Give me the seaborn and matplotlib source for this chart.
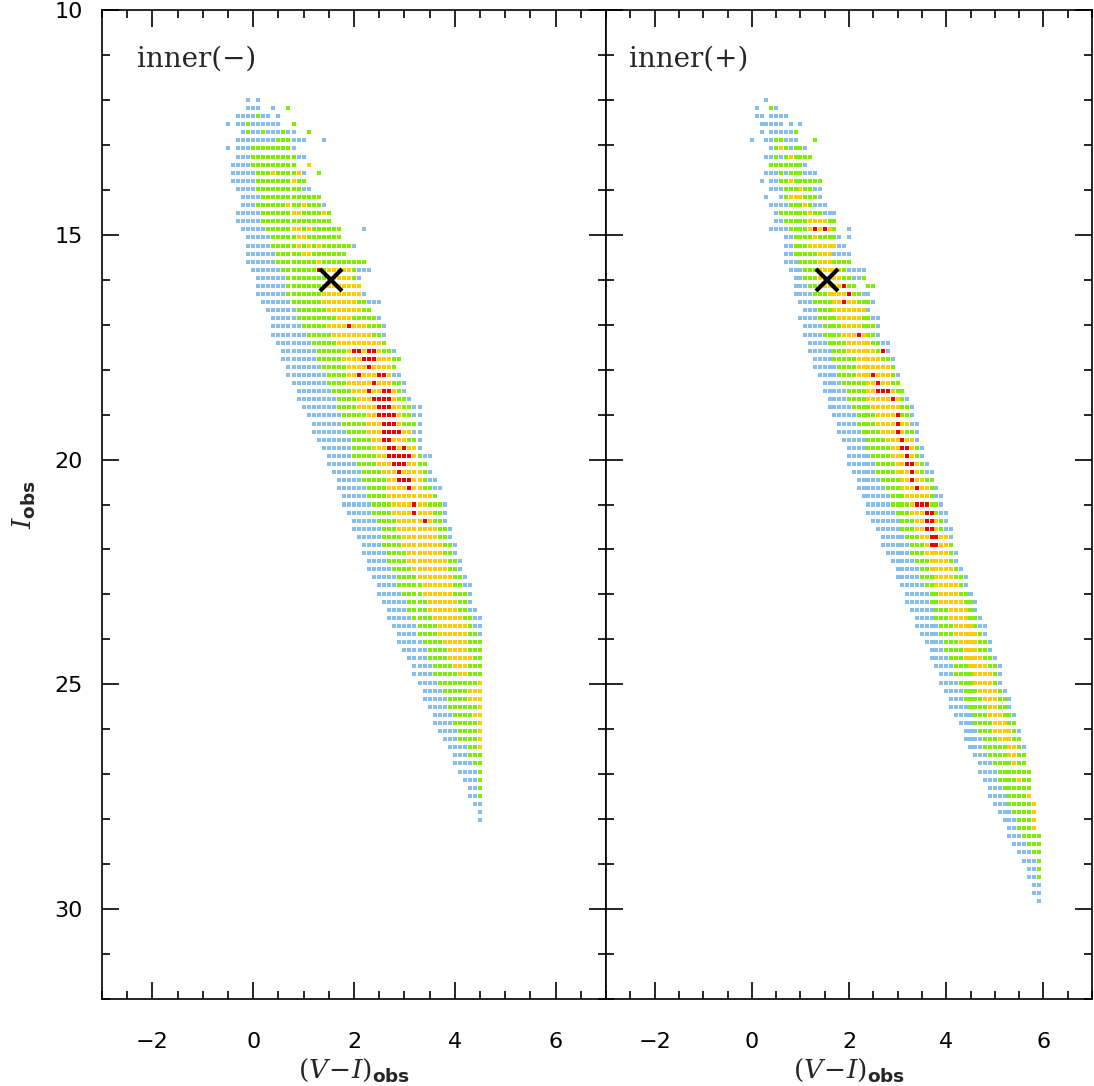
import numpy as np
import pandas as pd
import matplotlib
matplotlib.use('Agg')
import matplotlib.pyplot as plt
from matplotlib.ticker import MultipleLocator
import seaborn as sns

nan = np.nan

# model grid: rows in I_obs, columns in (V-I)_obs
row_I0 = 12.0
row_step = 0.18
col_step = 0.1

# ---------------- inner(-) : per row extents ----------------
left_xmin = [nan, nan, -0.3, -0.3, -0.2, -0.3, -0.3, -0.3, -0.4, -0.4,
             -0.4, -0.3, -0.2, -0.2, -0.3, -0.3, -0.2, -0.1, -0.1, -0.1,
             -0.1, 0.0, 0.1, 0.1, 0.1, 0.2, 0.3, 0.4, 0.4, 0.4,
             0.5, 0.6, 0.6, 0.7, 0.7, 0.8, 0.9, 0.9, 1.0, 1.1,
             1.2, 1.2, 1.3, 1.4, 1.5, 1.5, 1.6, 1.7, 1.7, 1.8,
             1.8, 1.9, 2.0, 2.0, 2.1, 2.2, 2.2, 2.3, 2.3, 2.4,
             2.5, 2.5, 2.6, 2.7, 2.7, 2.8, 2.9, 2.9, 3.0, 3.1,
             3.2, 3.2, 3.3, 3.4, 3.4, 3.5, 3.6, 3.6, 3.7, 3.8,
             3.9, 4.0, 4.0, 4.1, 4.2, 4.3, 4.3, 4.4, 4.5, 4.5]
left_xmax = [nan, nan, 0.3, 0.5, 0.8, 1.0, 0.8, 1.0, 0.8, 1.0,
             1.0, 1.1, 1.3, 1.4, 1.5, 1.5, 1.7, 1.7, 2.0, 1.8,
             2.2, 2.3, 2.1, 2.1, 2.2, 2.5, 2.3, 2.5, 2.6, 2.6,
             2.6, 2.8, 2.9, 2.8, 2.9, 3.0, 3.0, 3.1, 3.3, 3.3,
             3.3, 3.3, 3.3, 3.3, 3.5, 3.4, 3.5, 3.6, 3.7, 3.6,
             3.8, 3.8, 3.8, 3.9, 3.9, 4.0, 4.0, 4.1, 4.1, 4.2,
             4.3, 4.3, 4.3, 4.4, 4.5, 4.5, 4.5, 4.5, 4.5, 4.5,
             4.5, 4.5, 4.5, 4.5, 4.5, 4.5, 4.5, 4.5, 4.5, 4.5,
             4.5, 4.5, 4.5, 4.5, 4.5, 4.5, 4.5, 4.5, 4.5, 4.5]
left_green_lo = [nan, nan, 0.1, -0.1, nan, 0.5, 0.0, 0.0, 0.0, 0.1,
                 0.1, 0.1, 0.2, 0.1, 0.2, 0.2, 0.3, 0.4, 0.4, 0.5,
                 0.5, 0.6, 0.7, 0.7, 0.7, 0.8, 0.9, 0.9, 1.0, 1.1,
                 1.2, 1.3, 1.3, 1.4, 1.5, 1.5, 1.6, 1.7, 1.7, 1.8,
                 1.8, 1.9, 2.0, 2.0, 2.0, 2.1, 2.2, 2.2, 2.3, 2.3,
                 2.4, 2.4, 2.5, 2.6, 2.6, 2.6, 2.7, 2.7, 2.8, 2.9,
                 2.9, 3.0, 3.1, 3.1, 3.2, 3.3, 3.3, 3.4, 3.5, 3.5,
                 3.6, 3.6, 3.7, 3.8, 3.9, 3.9, 4.0, 4.0, 4.1, 4.1,
                 4.3, 4.3, 4.4, 4.5, 4.5, 4.5, 4.5, nan, nan, nan]
left_green_hi = [nan, nan, 0.1, -0.1, nan, 0.7, 0.7, 0.8, 0.8, 0.9,
                 1.0, 0.9, 1.3, 1.3, 1.5, 1.5, 1.7, 1.7, 1.9, 1.8,
                 2.2, 2.0, 2.0, 2.1, 2.1, 2.2, 2.3, 2.4, 2.5, 2.5,
                 2.6, 2.7, 2.9, 2.8, 2.7, 2.9, 2.9, 3.0, 3.1, 3.1,
                 3.2, 3.1, 3.2, 3.1, 3.3, 3.4, 3.4, 3.4, 3.5, 3.6,
                 3.7, 3.7, 3.7, 3.8, 3.8, 3.9, 3.9, 4.0, 4.0, 4.1,
                 4.1, 4.2, 4.2, 4.2, 4.3, 4.3, 4.4, 4.5, 4.5, 4.5,
                 4.5, 4.5, 4.5, 4.5, 4.5, 4.5, 4.5, 4.5, 4.5, 4.5,
                 4.5, 4.5, 4.5, 4.5, 4.5, 4.5, 4.5, nan, nan, nan]
left_yellow_lo = [nan, nan, nan, nan, nan, nan, nan, nan, nan, nan,
                  nan, nan, nan, nan, 0.8, nan, 0.8, 0.9, 0.9, 1.0,
                  nan, 1.5, 1.5, 1.5, 1.4, 1.4, 1.5, 1.7, 1.5, 1.6,
                  1.7, 1.9, 1.8, 1.9, 1.9, 1.9, 2.0, 2.1, 2.1, 2.3,
                  2.3, 2.3, 2.4, 2.4, 2.5, 2.5, 2.6, 2.7, 2.7, 2.7,
                  2.8, 2.8, 2.9, 2.9, 3.0, 3.0, 3.1, 3.1, 3.2, 3.3,
                  3.4, 3.4, 3.5, 3.5, 3.6, 3.7, 3.7, 3.8, 3.9, 3.9,
                  4.0, 4.1, 4.5, 4.3, 4.3, 4.5, 4.4, 4.5, 4.5, 4.5,
                  4.5, nan, nan, nan, nan, nan, nan, nan, nan, nan]
left_yellow_hi = [nan, nan, nan, nan, nan, nan, nan, nan, nan, nan,
                  nan, nan, nan, nan, 0.9, nan, 0.9, 1.0, 0.9, 1.1,
                  nan, 1.9, 1.9, 2.1, 2.1, 2.0, 2.1, 1.9, 2.2, 2.3,
                  2.5, 2.5, 2.7, 2.7, 2.7, 2.7, 2.8, 2.8, 2.9, 2.9,
                  2.9, 3.1, 3.0, 3.2, 3.2, 3.2, 3.3, 3.3, 3.3, 3.5,
                  3.4, 3.5, 3.5, 3.6, 3.6, 3.7, 3.7, 3.8, 3.8, 3.9,
                  3.9, 3.9, 4.0, 4.0, 4.1, 4.2, 4.2, 4.2, 4.2, 4.3,
                  4.2, 4.2, 4.5, 4.5, 4.5, 4.5, 4.5, 4.5, 4.5, 4.5,
                  4.5, nan, nan, nan, nan, nan, nan, nan, nan, nan]
# highest-probability cells (row index, colour)
left_red_row = [21, 28, 31, 31, 31, 31, 32, 32, 32, 33, 34, 34, 34, 35, 36, 36, 36,
                37, 37, 37, 37, 38, 38, 38, 39, 39, 39, 39, 40, 40, 40,
                41, 41, 41, 41, 42, 42, 43, 43, 43, 44, 44, 44, 44, 44,
                45, 45, 45, 46, 47, 47, 47, 48, 50, 51, 52]
left_red_x = [1.3, 1.9, 2.0, 2.1, 2.3, 2.4, 2.2, 2.3, 2.4, 2.3, 2.1, 2.5, 2.6, 2.4, 2.3, 2.6, 2.7,
              2.4, 2.5, 2.6, 2.7, 2.5, 2.6, 2.7, 2.5, 2.6, 2.7, 2.8, 2.6, 2.7, 2.8,
              2.6, 2.7, 2.8, 2.9, 2.6, 2.7, 2.7, 2.8, 3.0, 2.7, 2.8, 2.9, 3.0, 3.1,
              2.8, 2.9, 3.0, 2.9, 2.9, 3.0, 3.1, 3.1, 3.2, 3.2, 3.4]
# isolated cells in the sparse top of the band
left_extra_row = [0, 0, 1, 1, 1, 1, 1, 2, 3, 3, 4, 4, 4, 4, 5, 6, 8, 9, 9, 9,
                  10, 13, 13, 14, 16, 16, 18, 18, 20]
left_extra_x = [-0.1, 0.1, -0.1, 0.0, 0.1, 0.4, 0.7, 0.5, -0.5, 0.8, -0.1, 0.2, 0.6, 1.1,
                1.4, -0.5, 1.1, 0.4, 0.9, 1.3, 0.8, 0.7, 1.0, 1.4, 1.1, 2.2, 1.1, 1.3, 1.3]
left_extra_lev = ['b', 'b', 'b', 'b', 'b', 'b', 'g', 'b', 'b', 'g', 'g', 'g', 'g', 'g',
                  'b', 'b', 'y', 'y', 'y', 'g', 'y', 'y', 'y', 'y', 'y', 'b', 'y', 'y', 'y']

# ---------------- inner(+) ----------------
right_xmin = [nan, nan, 0.4, 0.2, 0.4, 0.3, 0.4, 0.3, 0.4, 0.3,
              0.4, 0.4, 0.6, 0.4, 0.5, 0.5, 0.4, 0.7, 0.7, 0.7,
              0.7, 0.8, 0.9, 0.9, 0.9, 1.0, 1.1, 1.0, 1.1, 1.1,
              1.2, 1.2, 1.3, 1.3, 1.4, 1.5, 1.5, 1.6, 1.6, 1.7,
              1.8, 1.8, 1.9, 2.0, 2.0, 2.0, 2.1, 2.2, 2.2, 2.3,
              2.4, 2.4, 2.5, 2.6, 2.7, 2.7, 2.8, 2.9, 3.0, 3.0,
              3.1, 3.2, 3.2, 3.3, 3.4, 3.4, 3.5, 3.6, 3.7, 3.7,
              3.8, 3.9, 3.9, 4.0, 4.1, 4.1, 4.2, 4.3, 4.4, 4.4,
              4.5, 4.6, 4.7, 4.7, 4.8, 4.9, 4.9, 5.0, 5.1, 5.2,
              5.3, 5.3, 5.4, 5.5, 5.6, 5.7, 5.7, 5.8, 5.8, 5.9]
right_xmax = [nan, nan, 0.7, 0.6, 0.8, 0.9, 1.1, 1.2, 1.1, 1.3,
              1.4, 1.4, 1.4, 1.5, 1.7, 1.7, 1.7, 1.8, 1.9, 2.0,
              2.0, 2.2, 2.3, 2.1, 2.4, 2.5, 2.4, 2.6, 2.6, 2.6,
              2.8, 2.8, 2.9, 2.9, 3.0, 3.0, 3.1, 3.2, 3.3, 3.3,
              3.4, 3.4, 3.4, 3.5, 3.5, 3.6, 3.7, 3.7, 3.8, 3.9,
              3.9, 4.0, 4.0, 4.1, 4.1, 4.1, 4.2, 4.2, 4.3, 4.4,
              4.4, 4.5, 4.6, 4.6, 4.7, 4.8, 4.8, 4.9, 4.9, 5.0,
              5.1, 5.1, 5.1, 5.2, 5.3, 5.3, 5.4, 5.4, 5.5, 5.5,
              5.6, 5.6, 5.6, 5.7, 5.7, 5.7, 5.7, 5.8, 5.8, 5.8,
              5.8, 5.9, 5.9, 5.9, 5.9, 5.9, 5.9, 5.9, 5.9, 5.9]
right_green_lo = [nan, nan, nan, nan, nan, 0.5, 0.5, 0.5, 0.4, 0.6,
                  0.6, 0.7, 0.7, 0.8, 0.6, 0.7, 0.8, 0.9, 0.9, 0.9,
                  1.0, 1.1, 1.1, 1.2, 1.3, 1.3, 1.4, 1.4, 1.5, 1.5,
                  1.6, 1.7, 1.7, 1.8, 1.8, 1.9, 2.0, 2.0, 2.1, 2.2,
                  2.2, 2.3, 2.4, 2.4, 2.5, 2.6, 2.6, 2.7, 2.8, 2.9,
                  2.9, 3.0, 3.1, 3.1, 3.2, 3.3, 3.3, 3.4, 3.5, 3.5,
                  3.6, 3.7, 3.7, 3.8, 3.8, 3.9, 3.9, 4.0, 4.0, 4.1,
                  4.2, 4.2, 4.3, 4.4, 4.4, 4.5, 4.6, 4.6, 4.7, 4.8,
                  4.8, 4.9, 5.0, 5.1, 5.1, 5.2, 5.3, 5.3, 5.4, 5.5,
                  5.5, 5.6, 5.7, 5.8, 5.9, 5.9, 5.9, nan, nan, nan]
right_green_hi = [nan, nan, nan, nan, nan, 0.6, 1.0, 1.2, 1.0, 1.0,
                  1.4, 1.2, 1.3, 1.2, 1.4, 1.7, 1.7, 1.7, 1.7, 1.6,
                  2.0, 1.9, 2.3, 2.1, 2.2, 2.4, 2.3, 2.4, 2.5, 2.5,
                  2.6, 2.6, 2.8, 2.9, 2.9, 3.0, 3.1, 3.1, 3.2, 3.2,
                  3.2, 3.3, 3.3, 3.4, 3.4, 3.5, 3.5, 3.7, 3.7, 3.7,
                  3.8, 3.8, 3.9, 3.9, 4.0, 4.1, 4.1, 4.1, 4.2, 4.3,
                  4.3, 4.4, 4.5, 4.5, 4.6, 4.6, 4.7, 4.8, 4.8, 4.9,
                  5.0, 5.0, 5.0, 5.1, 5.2, 5.2, 5.3, 5.4, 5.4, 5.5,
                  5.5, 5.6, 5.6, 5.7, 5.7, 5.7, 5.7, 5.8, 5.8, 5.8,
                  5.8, 5.9, 5.9, 5.9, 5.9, 5.9, 5.9, nan, nan, nan]
right_yellow_lo = [nan, nan, nan, nan, nan, nan, nan, nan, nan, nan,
                   nan, nan, 0.8, nan, nan, 1.2, 1.2, nan, 1.2, 1.4,
                   1.4, 1.4, 1.4, 1.4, 1.6, 1.7, 1.7, 1.8, 1.9, 1.9,
                   2.0, 2.0, 2.2, 2.2, 2.2, 2.4, 2.4, 2.4, 2.5, 2.6,
                   2.6, 2.7, 2.8, 2.9, 2.9, 3.0, 3.0, 3.1, 3.1, 3.2,
                   3.3, 3.3, 3.4, 3.4, 3.5, 3.6, 3.6, 3.7, 3.7, 3.8,
                   3.8, 3.9, 3.9, 4.1, 4.1, 4.2, 4.2, 4.3, 4.4, 4.4,
                   4.5, 4.6, 4.6, 4.7, 4.8, 4.9, 4.9, 5.0, 5.0, 5.1,
                   5.3, 5.3, 5.4, nan, 5.5, nan, 5.7, 5.8, 5.8, 5.8,
                   5.8, nan, nan, nan, nan, nan, nan, nan, nan, nan]
right_yellow_hi = [nan, nan, nan, nan, nan, nan, nan, nan, nan, nan,
                   nan, nan, 1.0, nan, nan, 1.5, 1.6, nan, 1.7, 1.6,
                   1.6, 1.8, 1.8, 1.8, 2.0, 2.1, 2.3, 2.2, 2.2, 2.3,
                   2.4, 2.5, 2.6, 2.8, 2.8, 2.8, 2.9, 3.0, 3.0, 2.9,
                   3.2, 3.1, 3.3, 3.3, 3.3, 3.4, 3.4, 3.5, 3.6, 3.6,
                   3.6, 3.7, 3.8, 3.8, 4.0, 4.0, 4.0, 4.0, 4.1, 4.1,
                   4.2, 4.2, 4.3, 4.4, 4.4, 4.5, 4.6, 4.6, 4.6, 4.7,
                   4.8, 4.9, 4.9, 5.0, 5.0, 5.0, 5.1, 5.2, 5.3, 5.3,
                   5.4, 5.4, 5.4, nan, 5.5, nan, 5.7, 5.8, 5.8, 5.8,
                   5.8, nan, nan, nan, nan, nan, nan, nan, nan, nan]
right_red_row = [16, 16, 23, 24, 25, 29, 31, 34, 35, 36, 36, 36, 37, 39, 40, 41, 42,
                 43, 43, 44, 45, 45, 46, 47, 48, 50, 50, 50, 51, 51, 52, 52,
                 53, 53, 54, 54, 55, 55]
right_red_x = [1.3, 1.5, 1.9, 2.0, 1.9, 2.2, 2.7, 2.5, 2.6, 2.6, 2.7, 2.8, 2.9, 3.0, 3.0, 3.0, 3.1,
               3.1, 3.2, 3.2, 3.2, 3.3, 3.3, 3.3, 3.4, 3.4, 3.5, 3.6, 3.6, 3.7, 3.6, 3.7,
               3.6, 3.7, 3.7, 3.8, 3.7, 3.8]
right_extra_row = [0, 1, 1, 1, 2, 2, 3, 3, 4, 4, 5, 5, 6, 6, 7, 7, 9, 10, 10, 11,
                   12, 13, 14, 16, 17, 17, 21, 22, 22, 23, 23]
right_extra_x = [0.3, 0.1, 0.4, 0.5, 0.1, 0.2, 0.8, 1.0, 0.2, 0.9, 0.0, 1.3, 0.6, 0.8,
                 0.6, 0.8, 0.7, 0.2, 0.8, 1.0, 0.3, 1.1, 1.2, 2.0, 1.3, 2.0, 2.3, 2.1,
                 2.2, 2.4, 2.5]
right_extra_lev = ['b', 'b', 'g', 'b', 'b', 'b', 'b', 'b', 'b', 'g', 'b', 'g', 'y', 'b',
                   'b', 'y', 'b', 'b', 'y', 'y', 'b', 'y', 'y', 'b', 'y', 'b', 'b', 'b',
                   'b', 'g', 'g']

# best-fit position (black cross)
cross_x = 1.55
cross_I = 16.0

level_names = {'b': 'low', 'g': 'mid', 'y': 'high', 'r': 'top'}
palette = {'low': '#86BFEC', 'mid': '#7CF000', 'high': '#FFCC00', 'top': '#F20000'}


def inside(x, lo, hi):
    return (not np.isnan(lo)) and lo - 1e-6 <= x <= hi + 1e-6


def build_cells(xmin, xmax, glo, ghi, ylo, yhi, red_row, red_x, ex_row, ex_x, ex_lev):
    cells = {}
    for k in range(len(xmin)):
        if np.isnan(xmin[k]):
            continue
        n = int(round((xmax[k] - xmin[k]) / col_step)) + 1
        for j in range(n):
            x = round(xmin[k] + j * col_step, 1)
            lev = 'b'
            if inside(x, glo[k], ghi[k]):
                lev = 'g'
            if inside(x, ylo[k], yhi[k]):
                lev = 'y'
            cells[(k, x)] = lev
    for k, x in zip(red_row, red_x):
        cells[(k, round(x, 1))] = 'r'
    for k, x, lev in zip(ex_row, ex_x, ex_lev):
        cells[(k, round(x, 1))] = lev
    rows = [{'x': x, 'I': row_I0 + k * row_step, 'level': level_names[lev]}
            for (k, x), lev in cells.items()]
    return pd.DataFrame(rows)


left_df = build_cells(left_xmin, left_xmax, left_green_lo, left_green_hi,
                      left_yellow_lo, left_yellow_hi, left_red_row, left_red_x,
                      left_extra_row, left_extra_x, left_extra_lev)
right_df = build_cells(right_xmin, right_xmax, right_green_lo, right_green_hi,
                       right_yellow_lo, right_yellow_hi, right_red_row, right_red_x,
                       right_extra_row, right_extra_x, right_extra_lev)

sns.set_style('ticks')
plt.rcParams['font.family'] = ['DejaVu Sans']
plt.rcParams['mathtext.fontset'] = 'custom'
plt.rcParams['mathtext.rm'] = 'DejaVu Serif'
plt.rcParams['mathtext.it'] = 'DejaVu Serif:italic'
plt.rcParams['mathtext.bf'] = 'DejaVu Sans:bold'

fig = plt.figure(figsize=(10.94, 10.86), dpi=100)
W, H = 1094.0, 1086.0
ax1 = fig.add_axes([102 / W, 1 - 999 / H, (606 - 102) / W, 989 / H])
ax2 = fig.add_axes([606 / W, 1 - 999 / H, (1092 - 606) / W, 989 / H])

panels = [(ax1, left_df, 'inner(\u2212)', -2.31), (ax2, right_df, 'inner(+)', -2.53)]
for ax, df, tag, tag_x in panels:
    sns.scatterplot(data=df, x='x', y='I', hue='level', palette=palette,
                    hue_order=['low', 'mid', 'high', 'top'], marker='s', s=8.3,
                    linewidth=0, legend=False, ax=ax, zorder=2)
    ax.plot(cross_x, cross_I, marker='x', ms=16.5, mew=3, color='black', zorder=3)
    ax.text(tag_x, 11.1, tag, family='DejaVu Serif', fontsize=20, va='center', ha='left')

    ax.set_xlim(-3, 7)
    ax.set_ylim(32, 10)
    ax.xaxis.set_major_locator(MultipleLocator(2))
    ax.xaxis.set_minor_locator(MultipleLocator(0.5))
    ax.yaxis.set_major_locator(MultipleLocator(5))
    ax.yaxis.set_minor_locator(MultipleLocator(1))
    ax.tick_params(which='both', direction='in', top=True, right=True, width=1.2,
                   labelsize=16, colors='black')
    ax.tick_params(which='major', length=12)
    ax.tick_params(which='minor', length=6)
    ax.tick_params(axis='x', pad=24)
    ax.tick_params(axis='y', pad=14)
    for sp in ax.spines.values():
        sp.set_linewidth(1.2)
        sp.set_color('black')
    ax.set_xlabel(r'$(V\!-\!I)_{\mathbf{obs}}$', fontsize=19, labelpad=3)
    ax.set_ylabel('')

ax1.set_ylabel(r'$I_{\mathbf{obs}}$', fontsize=19, labelpad=12)
ax2.tick_params(labelleft=False)

fig.savefig('out.png', dpi=100)
